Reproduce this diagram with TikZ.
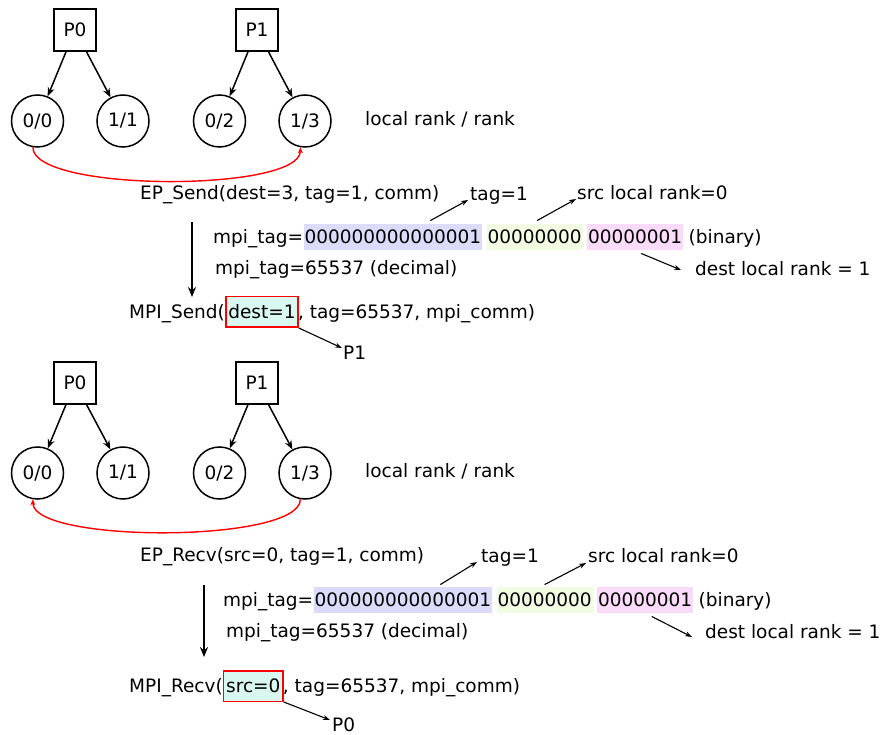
\documentclass[tikz,border=0pt]{standalone}
\usepackage{fontspec}
\setmainfont{DejaVu Sans}
\usetikzlibrary{arrows.meta, positioning, calc}
\definecolor{bitblue}{HTML}{DCDCFA}
\definecolor{bitgreen}{HTML}{F2FCE2}
\definecolor{bitpink}{HTML}{FADCFA}
\definecolor{selcyan}{HTML}{D8F8F0}

\begin{document}
\begin{tikzpicture}[x=1pt, y=-1pt,
    every node/.style={font=\fontsize{18.5pt}{22pt}\selectfont},
    proc/.style={draw, line width=1.5pt, minimum size=42pt, inner sep=0pt},
    rk/.style={draw, circle, line width=1.5pt, minimum size=52pt, inner sep=0pt},
    lbl/.style={anchor=west, inner xsep=0pt, inner ysep=1pt, text height=17pt, text depth=4.5pt},
    bits/.style={lbl, fill=#1, inner xsep=1pt, inner ysep=2.5pt},
    sel/.style={lbl, draw=red, line width=1.5pt, fill=selcyan, inner xsep=2.5pt, inner ysep=4.5pt},
    tr/.style={-{Stealth[length=9pt, width=7pt]}, line width=1.5pt},
    note/.style={-{Stealth[length=7pt, width=5pt]}, line width=1.1pt},
    call/.style={-{Stealth[length=6pt, width=5pt]}, red, line width=1.4pt},
    down/.style={-{Stealth[length=10pt, width=8pt]}, line width=2.5pt},
]
    \useasboundingbox (0,0) rectangle (884,735);

    % Send side: processes and ranks
    \node[proc] (p0a) at (75, 30) {P0};
    \node[proc] (p1a) at (257, 30) {P1};
    \node[rk] (c00a) at (37.5, 121) {0/0};
    \node[rk] (c11a) at (123, 121) {1/1};
    \node[rk] (c02a) at (219.5, 121) {0/2};
    \node[rk] (c13a) at (305, 121) {1/3};
    \node[lbl] (rankA) at (365, 119) {local rank / rank};

    \draw[tr] (p0a) -- (c00a);
    \draw[tr] (p0a) -- (c11a);
    \draw[tr] (p1a) -- (c02a);
    \draw[tr] (p1a) -- (c13a);
    \draw[call] (c00a.-100) .. controls +(0,45) and +(0,45) .. (c13a.-100);

    \node[lbl] (epSend) at (140, 193) {EP\_Send(dest=3, tag=1, comm)};
    \node[lbl] (tagA) at (470, 194) {tag=1};
    \node[lbl] (srcA) at (577, 193) {src local rank=0};

    % Encoded tag
    \node[lbl] (mpiTagA) at (213, 237) {mpi\_tag=};
    \node[bits=bitblue, right=0pt of mpiTagA] (hiA) {000000000000001};
    \node[bits=bitgreen, right=4pt of hiA] (midA) {00000000};
    \node[bits=bitpink, right=4pt of midA] (loA) {00000001};
    \node[lbl, right=5pt of loA] (binA) {(binary)};
    \node[lbl] (decA) at (215, 268) {mpi\_tag=65537 (decimal)};
    \node[lbl] (destA) at (695, 269) {dest local rank = 1};

    \draw[note] ([xshift=37.5pt, yshift=3pt]hiA.north) -- ([xshift=-2pt, yshift=-6pt]tagA.west);
    \draw[note] ([xshift=2.5pt, yshift=3pt]midA.north) -- ([xshift=-1pt, yshift=-6pt]srcA.west);
    \draw[note] ([xshift=6pt, yshift=-3pt]loA.south) -- ([xshift=-14pt, yshift=-1pt]destA.west);

    % MPI call
    \node[lbl] (mpiSend) at (129, 312) {MPI\_Send(};
    \node[sel, right=0pt of mpiSend] (selA) {dest=1};
    \node[lbl, right=-1pt of selA] (restA) {, tag=65537, mpi\_comm)};
    \node[lbl] (pOne) at (343, 353) {P1};

    \draw[down] ([xshift=52pt, yshift=-17pt]epSend.south west) -- ([xshift=63pt, yshift=3pt]mpiSend.north west);
    \draw[note] (selA.south east) -- ([xshift=-1pt, yshift=5pt]pOne.west);

    % Receive side: processes and ranks
    \node[proc] (p0b) at (75, 383) {P0};
    \node[proc] (p1b) at (257, 383) {P1};
    \node[rk] (c00b) at (37.5, 473) {0/0};
    \node[rk] (c11b) at (123, 473) {1/1};
    \node[rk] (c02b) at (219.5, 473) {0/2};
    \node[rk] (c13b) at (305, 473) {1/3};
    \node[lbl] (rankB) at (365, 471) {local rank / rank};

    \draw[tr] (p0b) -- (c00b);
    \draw[tr] (p0b) -- (c11b);
    \draw[tr] (p1b) -- (c02b);
    \draw[tr] (p1b) -- (c13b);
    \draw[call] (c13b.-100) .. controls +(0,44) and +(0,44) .. (c00b.-100);

    \node[lbl] (epRecv) at (140, 555) {EP\_Recv(src=0, tag=1, comm)};
    \node[lbl] (tagB) at (481, 556) {tag=1};
    \node[lbl] (srcB) at (588, 556) {src local rank=0};

    % Encoded tag
    \node[lbl] (mpiTagB) at (223, 600) {mpi\_tag=};
    \node[bits=bitblue, right=0pt of mpiTagB] (hiB) {000000000000001};
    \node[bits=bitgreen, right=4pt of hiB] (midB) {00000000};
    \node[bits=bitpink, right=4pt of midB] (loB) {00000001};
    \node[lbl, right=5pt of loB] (binB) {(binary)};
    \node[lbl] (decB) at (226, 631) {mpi\_tag=65537 (decimal)};
    \node[lbl] (destB) at (705, 632) {dest local rank = 1};

    \draw[note] ([xshift=37.5pt, yshift=2pt]hiB.north) -- ([xshift=-4pt, yshift=-6pt]tagB.west);
    \draw[note] ([yshift=2pt]midB.north) -- ([xshift=-2pt, yshift=-7pt]srcB.west);
    \draw[note] ([xshift=6.5pt, yshift=-3pt]loB.south) -- ([xshift=-13pt, yshift=-5pt]destB.west);

    % MPI call
    \node[lbl] (mpiRecv) at (129, 686) {MPI\_Recv(};
    \node[sel, right=0pt of mpiRecv] (selB) {src=0};
    \node[lbl, right=-1pt of selB] (restB) {, tag=65537, mpi\_comm)};
    \node[lbl] (pZero) at (332, 725) {P0};

    \draw[down] ([xshift=64pt, yshift=-18pt]epRecv.south west) -- ([xshift=75pt, yshift=17pt]mpiRecv.north west);
    \draw[note] (selB.south east) -- ([xshift=-2pt, yshift=5pt]pZero.west);
\end{tikzpicture}
\end{document}
